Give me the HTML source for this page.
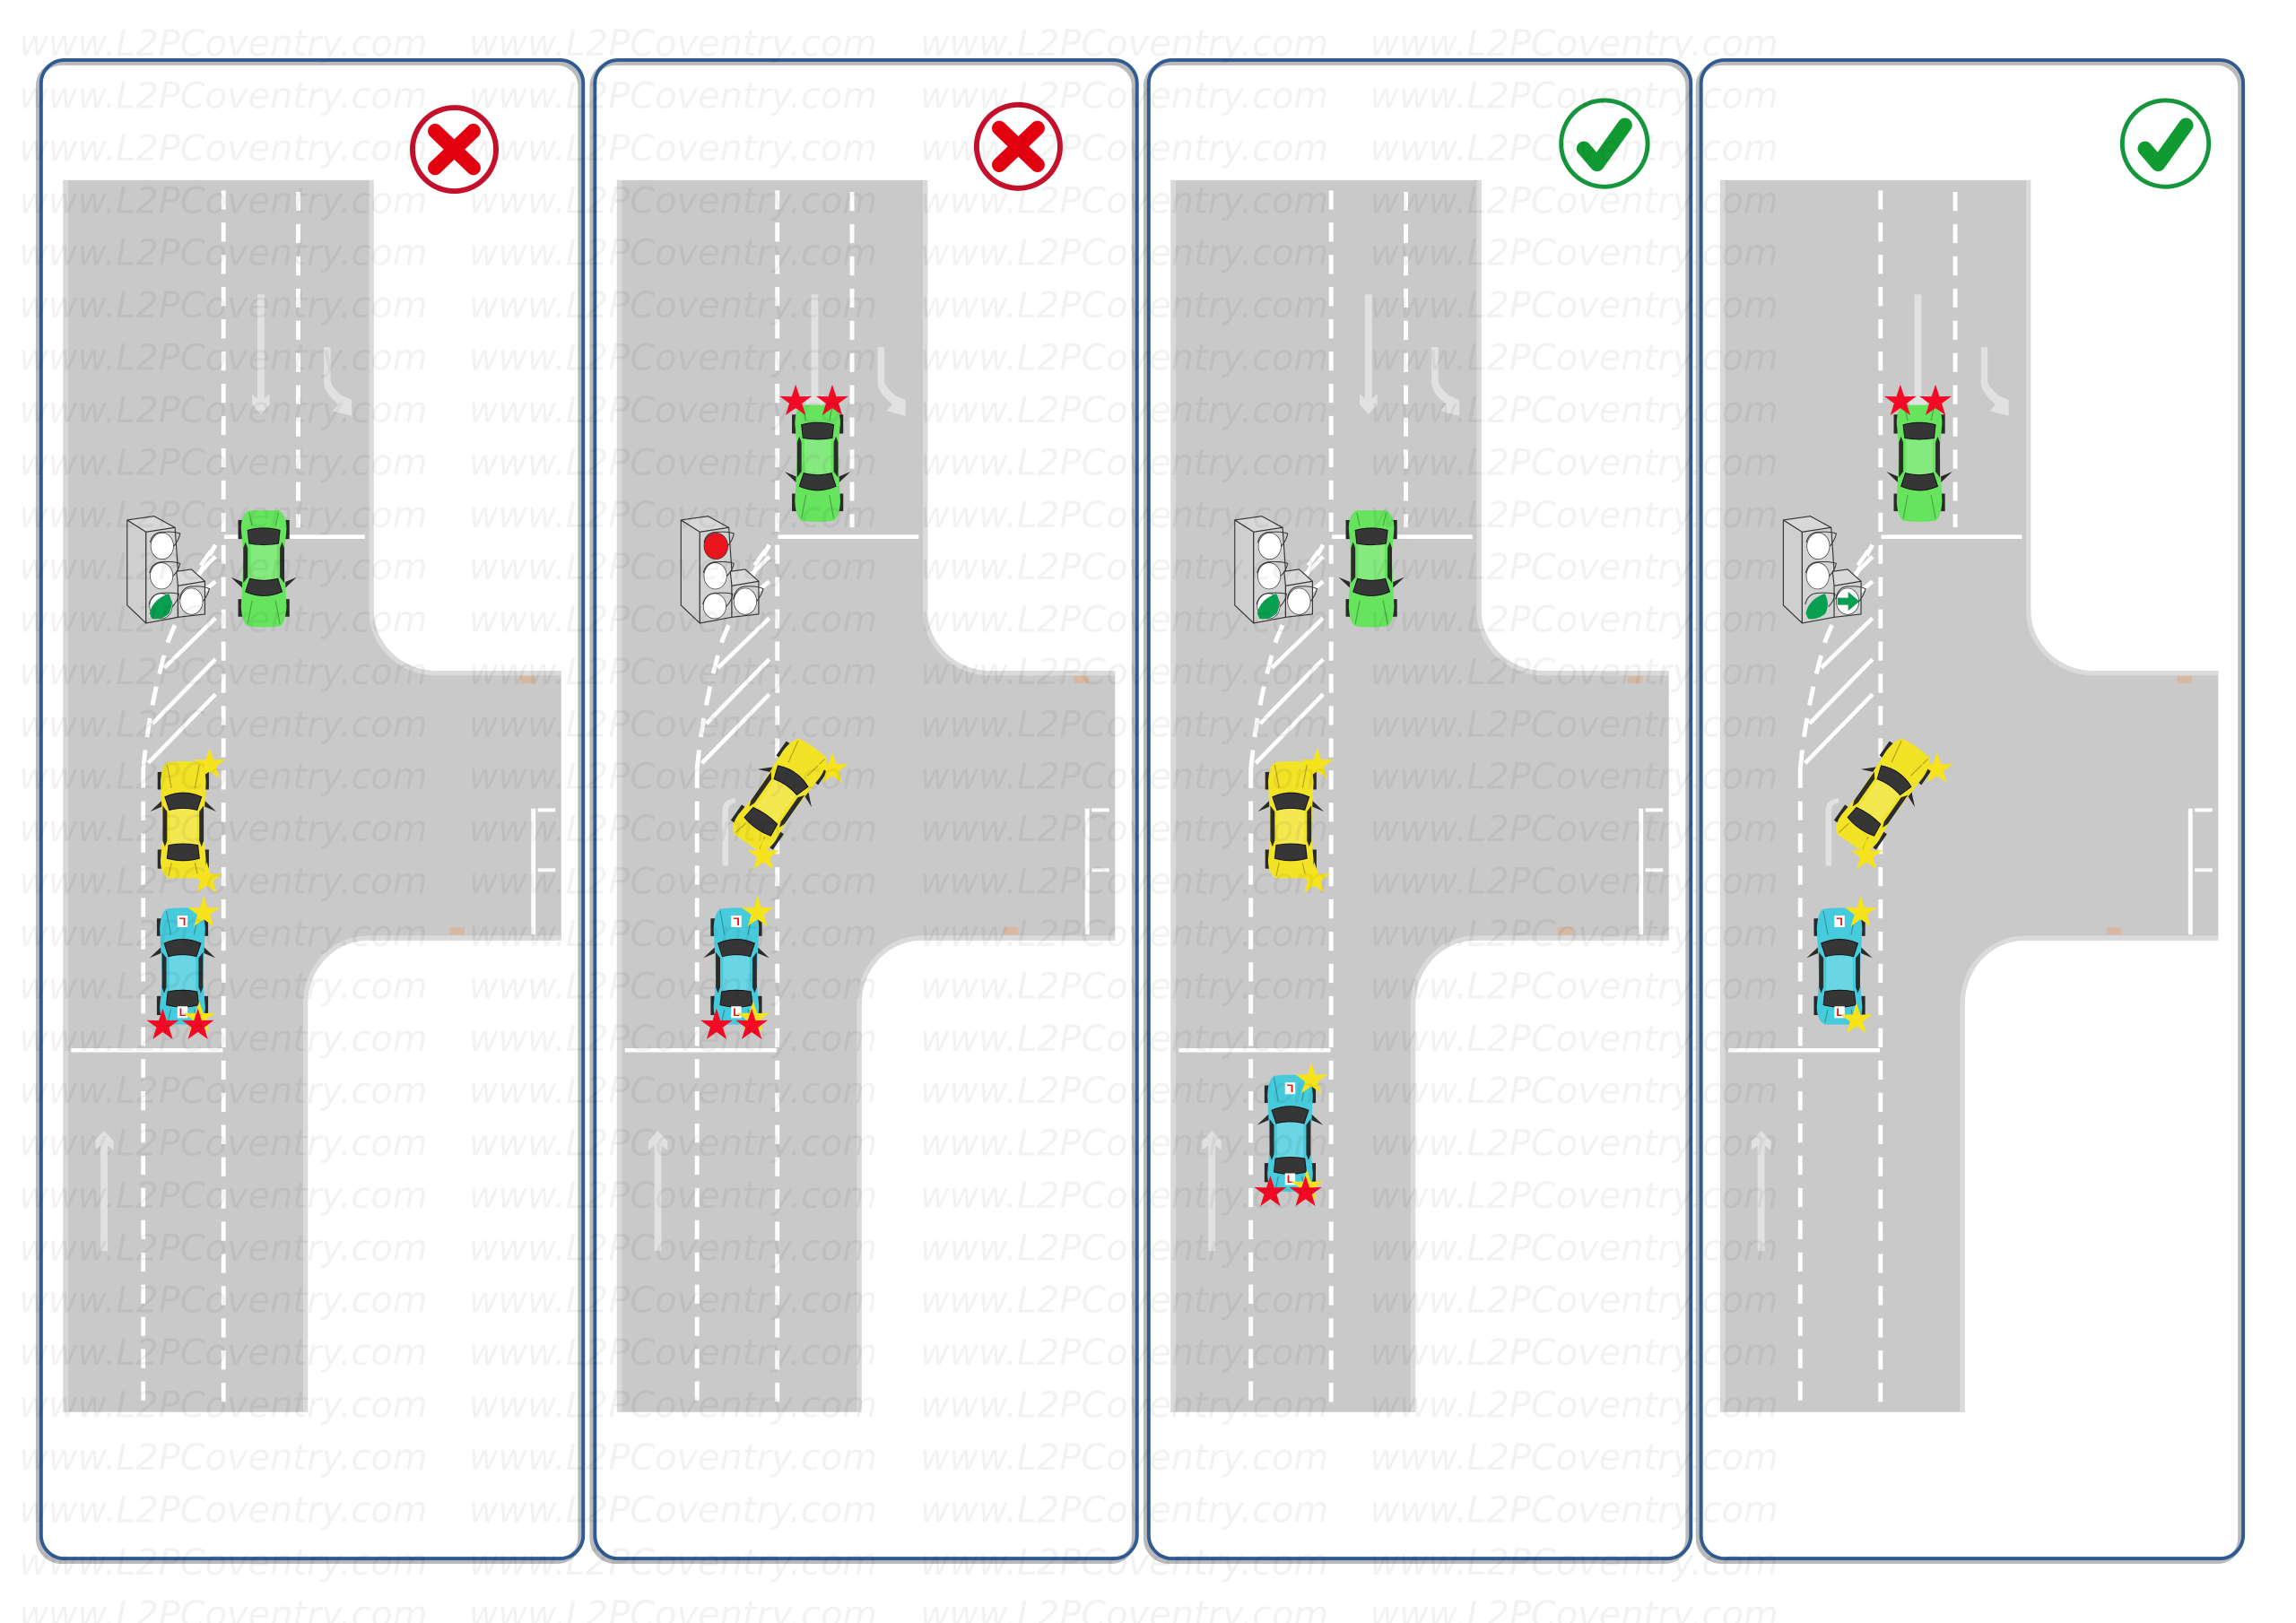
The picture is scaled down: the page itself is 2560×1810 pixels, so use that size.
<!DOCTYPE html>
<html>
<head>
<meta charset="utf-8">
<style>
html,body{margin:0;padding:0;background:#fff}
svg{display:block}
.wm text{font-family:"DejaVu Sans","Liberation Sans",sans-serif;font-style:italic;font-size:24.4px;fill:#000;fill-opacity:.05}
</style>
</head>
<body>
<svg xmlns="http://www.w3.org/2000/svg" width="2560" height="1810" viewBox="0 0 1567 1108">
<defs>
<g id="road">
<path d="M43,123H255V417A43,41 0 0 0 298,458H383V642H251A41,43 0 0 0 210,685V964H43Z" fill="#c9c9c9"/>
<path d="M44.8,123V964" stroke="#d8d8d8" stroke-width="3.4" fill="none"/>
<path d="M253.4,123V417A44.6,42.6 0 0 0 298,459.6H383" stroke="#dadada" stroke-width="3.2" fill="none"/>
<path d="M383,640.4H251A42.6,44.6 0 0 0 208.4,685V964" stroke="#dadada" stroke-width="3.2" fill="none"/>
<g stroke="#fff" fill="none">
<path d="M152.5,130V964" stroke-width="3" stroke-dasharray="13 9"/>
<path d="M203.5,131V360" stroke-width="3" stroke-dasharray="13 9"/>
<path d="M97.7,525V964" stroke-width="3" stroke-dasharray="13 9"/>
<path d="M97.7,525Q102,480 115,437Q128,405 147,372" stroke-width="3" stroke-dasharray="13 9"/>
<path d="M153,366.5H249" stroke-width="2.8"/>
<path d="M48.5,717H152" stroke-width="2.8"/>
<path d="M112,456L147,422M104,494L147,450M101,521L147,474M135,392L147,380M137,386L144,376M128,412L147,397" stroke-width="2.8"/>
<path d="M364,552V638" stroke-width="3"/>
<path d="M367,553H379M367,594H379" stroke-width="2.4"/>
</g>
<g fill="#e1e1e1">
<path d="M175.6,201H180.4V272L184,269V276L178,283L172,276V269L175.6,272Z"/>
<path d="M221,237H225.6V260Q226,264 233,270L240,273V284L227,280.500L231,276Q221,268 221,261Z"/>
<path d="M68.600,854H73.400V782L77.500,785V779L71,772L64.500,779V785L68.600,782Z"/>
<path d="M115,591H119V553Q119,549 124,548V545Q115,546 115,553Z"/>
</g>
<rect x="355" y="461.500" width="10" height="5" fill="#d8b8a0"/>
<rect x="307" y="633" width="10" height="5" fill="#d8b8a0"/>
</g>

<g id="tlbase" stroke="#333" stroke-width="3.4" stroke-linejoin="round">
<path d="M35,60L125,47L195,85L98,100Z" fill="#d8d8d8"/>
<path d="M35,60V345L98,405V100Z" fill="#cfcfcf"/>
<path d="M98,100L195,85L205,230L205,385L98,405Z" fill="#d2d2d2"/>
<path d="M200,232L250,225L295,265L205,280Z" fill="#dadada"/>
<path d="M205,280L295,265V375L205,385Z" fill="#d2d2d2"/>
</g>
<g id="tlhood" fill="none" stroke="#333" stroke-width="3">
<path d="M112,135Q120,98 160,100Q190,98 212,105Q208,128 190,148"/>
<path d="M110,237Q118,198 160,200Q190,198 212,205Q208,228 188,248"/>
<path d="M108,342Q118,302 158,304Q185,302 208,307Q205,330 186,350"/>
<path d="M210,325Q218,280 258,282Q290,280 310,290Q305,312 288,332"/>
</g>

<g id="car">
<g fill="#2a2a2a">
<rect x="-17.500" y="-33" width="3" height="12"/>
<rect x="14.500" y="-33" width="3" height="12"/>
<rect x="-17.500" y="20" width="3" height="13"/>
<rect x="14.500" y="20" width="3" height="13"/>
<path d="M-14,-14L-22.500,-6L-13,-10Z"/>
<path d="M14,-14L22.500,-6L13,-10Z"/>
</g>
<path d="M-11,-39.500Q0,-41 11,-39.500Q15,-37 15.500,-26L14.500,-6L14,10L15.500,27Q15.500,37 10,39.500H-10Q-15.500,37 -15.500,27L-14,10L-14.500,-6L-15.500,-26Q-15,-37 -11,-39.500Z" fill="currentColor"/>
<path d="M-9,-8H9V16H-9Z" fill="#fff" fill-opacity=".2"/>
<path d="M-11,-38L-8,-22M11,-38L8,-22M-10,38L-8,29M10,38L8,29" stroke="#000" stroke-opacity=".28" stroke-width=".7" fill="none"/>
<path d="M-12.500,-16Q0,-21.500 12.500,-16L9.500,-7Q0,-9.500 -9.500,-7Z" fill="#363636" stroke="#111" stroke-width=".6"/>
<path d="M-10,17Q0,15 10,17L11,26Q0,29 -11,26Z" fill="#363636" stroke="#111" stroke-width=".6"/>
<path d="M-14,-10L-11,-6V14L-12.500,18L-14,14Z" fill="#2c2c2c"/>
<path d="M14,-10L11,-6V14L12.500,18L14,14Z" fill="#2c2c2c"/>
</g>

<path id="star" d="M0,-11.500L2.700,-3.300L11,-3.500L4.300,1.400L6.800,9.400L0,4.600L-6.800,9.400L-4.300,1.400L-11,-3.500L-2.700,-3.300Z"/>
<g id="plates">
<rect x="-3.500" y="-35" width="7" height="8" fill="#fff"/>
<rect x="-3.500" y="27" width="7" height="8" fill="#fff"/>
<text x="0" y="33.500" font-family="Liberation Sans,sans-serif" font-size="7.500" font-weight="700" fill="#e01010" text-anchor="middle">L</text>
<text x="0" y="-28.500" font-family="Liberation Sans,sans-serif" font-size="7.500" font-weight="700" fill="#e01010" text-anchor="middle" transform="rotate(180 0 -31)">L</text>
</g>
</defs>

<!-- panels -->
<g fill="none">
<g stroke="#bababa" stroke-width="3.200">
<rect x="26" y="43" width="370" height="1023" rx="16"/>
<rect x="404" y="43" width="370" height="1023" rx="16"/>
<rect x="782" y="43" width="370" height="1023" rx="16"/>
<rect x="1159" y="43" width="370" height="1023" rx="16"/>
</g>
<g stroke="#2f5b92" stroke-width="2.400">
<rect x="28" y="41" width="370" height="1023" rx="16"/>
<rect x="406" y="41" width="370" height="1023" rx="16"/>
<rect x="784" y="41" width="370" height="1023" rx="16"/>
<rect x="1161" y="41" width="370" height="1023" rx="16"/>
</g>
</g>

<!-- roads -->
<use href="#road"/>
<use href="#road" x="378"/>
<use href="#road" x="756"/>
<use href="#road" x="1131"/>

<!-- traffic lights -->
<g transform="translate(79.600,342.800) scale(.204)">
<use href="#tlbase"/>
<g fill="#fff" stroke="#333" stroke-width="2"><ellipse cx="152" cy="147" rx="38" ry="44"/><ellipse cx="150" cy="247" rx="38" ry="44"/><ellipse cx="148" cy="348" rx="38" ry="42"/><ellipse cx="250" cy="332" rx="38" ry="44"/></g>
<path d="M110,372Q120,325 174,306Q192,340 176,372Q150,396 118,390Z" fill="#08a050"/>
<use href="#tlhood"/>
</g>
<g transform="translate(457.600,342.800) scale(.204)">
<use href="#tlbase"/>
<g fill="#fff" stroke="#333" stroke-width="2"><ellipse cx="152" cy="147" rx="40" ry="44" fill="#e8151c"/><ellipse cx="150" cy="247" rx="38" ry="44"/><ellipse cx="148" cy="348" rx="38" ry="42"/><ellipse cx="250" cy="332" rx="38" ry="44"/></g>
<use href="#tlhood"/>
</g>
<g transform="translate(835.600,342.800) scale(.204)">
<use href="#tlbase"/>
<g fill="#fff" stroke="#333" stroke-width="2"><ellipse cx="152" cy="147" rx="38" ry="44"/><ellipse cx="150" cy="247" rx="38" ry="44"/><ellipse cx="148" cy="348" rx="38" ry="42"/><ellipse cx="250" cy="332" rx="38" ry="44"/></g>
<path d="M110,372Q120,325 174,306Q192,340 176,372Q150,396 118,390Z" fill="#08a050"/>
<use href="#tlhood"/>
</g>
<g transform="translate(1210,342.800) scale(.204)">
<use href="#tlbase"/>
<g fill="#fff" stroke="#333" stroke-width="2"><ellipse cx="152" cy="147" rx="38" ry="44"/><ellipse cx="150" cy="247" rx="38" ry="44"/><ellipse cx="250" cy="332" rx="38" ry="44"/></g>
<path d="M110,372Q120,325 174,306Q192,340 176,372Q150,396 118,390Z" fill="#08a050"/>
<path d="M216,320H252V300L290,332L252,364V344H216Z" fill="#08a050"/>
<use href="#tlhood"/>
</g>

<!-- cars -->
<g>
<use href="#car" transform="translate(180,388) rotate(180)" style="color:#66e45e"/>
<use href="#car" transform="translate(125,560)" style="color:#f2e326"/>
<use href="#car" transform="translate(124.500,660)" style="color:#45cbdc"/>
<use href="#plates" transform="translate(124.500,660)"/>

<use href="#car" transform="translate(558,316) rotate(180)" style="color:#66e45e"/>
<use href="#car" transform="translate(532,543) rotate(35)" style="color:#f2e326"/>
<use href="#car" transform="translate(502.500,660)" style="color:#45cbdc"/>
<use href="#plates" transform="translate(502.500,660)"/>

<use href="#car" transform="translate(936,388) rotate(180)" style="color:#66e45e"/>
<use href="#car" transform="translate(881,560)" style="color:#f2e326"/>
<use href="#car" transform="translate(880.500,774)" style="color:#45cbdc"/>
<use href="#plates" transform="translate(880.500,774)"/>

<use href="#car" transform="translate(1310,316) rotate(180)" style="color:#66e45e"/>
<use href="#car" transform="translate(1285,543) rotate(35)" style="color:#f2e326"/>
<use href="#car" transform="translate(1255.500,660)" style="color:#45cbdc"/>
<use href="#plates" transform="translate(1255.500,660)"/>
</g>

<!-- stars -->
<g fill="#f6e31c">
<use href="#star" x="143" y="522"/><use href="#star" x="141" y="600"/><use href="#star" x="139" y="623"/><use href="#star" x="136" y="695"/>
<use href="#star" x="568" y="525"/><use href="#star" x="521" y="584"/><use href="#star" x="517" y="623"/><use href="#star" x="514" y="695"/>
<use href="#star" x="899" y="522"/><use href="#star" x="897" y="600"/><use href="#star" x="895" y="737"/><use href="#star" x="892" y="810"/>
<use href="#star" x="1322" y="525"/><use href="#star" x="1274" y="584"/><use href="#star" x="1270" y="623"/><use href="#star" x="1267" y="696"/>
</g>
<g fill="#f40a24">
<use href="#star" x="111" y="700"/><use href="#star" x="135" y="700"/>
<use href="#star" x="489" y="700"/><use href="#star" x="513" y="700"/>
<use href="#star" x="867" y="814"/><use href="#star" x="891" y="814"/>
<use href="#star" x="543" y="274"/><use href="#star" x="568" y="274"/>
<use href="#star" x="1297" y="274"/><use href="#star" x="1321" y="274"/>
</g>

<!-- status icons -->
<g fill="none" stroke-linecap="round" stroke-linejoin="round">
<circle cx="310" cy="102" r="28.500" stroke="#c4102a" stroke-width="3.600" fill="#fff"/>
<path d="M297,89.500L323,114.500M323,89.500L297,114.500" stroke="#e3000f" stroke-width="10"/>
<circle cx="695" cy="100" r="28.500" stroke="#c4102a" stroke-width="3.600" fill="#fff"/>
<path d="M682,87.500L708,112.500M708,87.500L682,112.500" stroke="#e3000f" stroke-width="10"/>
<circle cx="1095" cy="98" r="29.500" stroke="#15963c" stroke-width="3" fill="#fff"/>
<path d="M1081,101.500L1090,112L1109,85.500" stroke="#109a32" stroke-width="10"/>
<circle cx="1478" cy="98" r="29.500" stroke="#15963c" stroke-width="3" fill="#fff"/>
<path d="M1464,101.500L1473,112L1492,85.500" stroke="#109a32" stroke-width="10"/>
</g>

<!-- watermark -->
<g class="wm">
<text y="38"><tspan x="13">www.L2PCoventry.com</tspan><tspan x="320">www.L2PCoventry.com</tspan><tspan x="628">www.L2PCoventry.com</tspan><tspan x="935">www.L2PCoventry.com</tspan></text>
<text y="73.800"><tspan x="13">www.L2PCoventry.com</tspan><tspan x="320">www.L2PCoventry.com</tspan><tspan x="628">www.L2PCoventry.com</tspan><tspan x="935">www.L2PCoventry.com</tspan></text>
<text y="109.500"><tspan x="13">www.L2PCoventry.com</tspan><tspan x="320">www.L2PCoventry.com</tspan><tspan x="628">www.L2PCoventry.com</tspan><tspan x="935">www.L2PCoventry.com</tspan></text>
<text y="145.300"><tspan x="13">www.L2PCoventry.com</tspan><tspan x="320">www.L2PCoventry.com</tspan><tspan x="628">www.L2PCoventry.com</tspan><tspan x="935">www.L2PCoventry.com</tspan></text>
<text y="181"><tspan x="13">www.L2PCoventry.com</tspan><tspan x="320">www.L2PCoventry.com</tspan><tspan x="628">www.L2PCoventry.com</tspan><tspan x="935">www.L2PCoventry.com</tspan></text>
<text y="216.800"><tspan x="13">www.L2PCoventry.com</tspan><tspan x="320">www.L2PCoventry.com</tspan><tspan x="628">www.L2PCoventry.com</tspan><tspan x="935">www.L2PCoventry.com</tspan></text>
<text y="252.500"><tspan x="13">www.L2PCoventry.com</tspan><tspan x="320">www.L2PCoventry.com</tspan><tspan x="628">www.L2PCoventry.com</tspan><tspan x="935">www.L2PCoventry.com</tspan></text>
<text y="288.300"><tspan x="13">www.L2PCoventry.com</tspan><tspan x="320">www.L2PCoventry.com</tspan><tspan x="628">www.L2PCoventry.com</tspan><tspan x="935">www.L2PCoventry.com</tspan></text>
<text y="324"><tspan x="13">www.L2PCoventry.com</tspan><tspan x="320">www.L2PCoventry.com</tspan><tspan x="628">www.L2PCoventry.com</tspan><tspan x="935">www.L2PCoventry.com</tspan></text>
<text y="359.800"><tspan x="13">www.L2PCoventry.com</tspan><tspan x="320">www.L2PCoventry.com</tspan><tspan x="628">www.L2PCoventry.com</tspan><tspan x="935">www.L2PCoventry.com</tspan></text>
<text y="395.500"><tspan x="13">www.L2PCoventry.com</tspan><tspan x="320">www.L2PCoventry.com</tspan><tspan x="628">www.L2PCoventry.com</tspan><tspan x="935">www.L2PCoventry.com</tspan></text>
<text y="431.300"><tspan x="13">www.L2PCoventry.com</tspan><tspan x="320">www.L2PCoventry.com</tspan><tspan x="628">www.L2PCoventry.com</tspan><tspan x="935">www.L2PCoventry.com</tspan></text>
<text y="467"><tspan x="13">www.L2PCoventry.com</tspan><tspan x="320">www.L2PCoventry.com</tspan><tspan x="628">www.L2PCoventry.com</tspan><tspan x="935">www.L2PCoventry.com</tspan></text>
<text y="502.800"><tspan x="13">www.L2PCoventry.com</tspan><tspan x="320">www.L2PCoventry.com</tspan><tspan x="628">www.L2PCoventry.com</tspan><tspan x="935">www.L2PCoventry.com</tspan></text>
<text y="538.500"><tspan x="13">www.L2PCoventry.com</tspan><tspan x="320">www.L2PCoventry.com</tspan><tspan x="628">www.L2PCoventry.com</tspan><tspan x="935">www.L2PCoventry.com</tspan></text>
<text y="574.300"><tspan x="13">www.L2PCoventry.com</tspan><tspan x="320">www.L2PCoventry.com</tspan><tspan x="628">www.L2PCoventry.com</tspan><tspan x="935">www.L2PCoventry.com</tspan></text>
<text y="610"><tspan x="13">www.L2PCoventry.com</tspan><tspan x="320">www.L2PCoventry.com</tspan><tspan x="628">www.L2PCoventry.com</tspan><tspan x="935">www.L2PCoventry.com</tspan></text>
<text y="645.800"><tspan x="13">www.L2PCoventry.com</tspan><tspan x="320">www.L2PCoventry.com</tspan><tspan x="628">www.L2PCoventry.com</tspan><tspan x="935">www.L2PCoventry.com</tspan></text>
<text y="681.500"><tspan x="13">www.L2PCoventry.com</tspan><tspan x="320">www.L2PCoventry.com</tspan><tspan x="628">www.L2PCoventry.com</tspan><tspan x="935">www.L2PCoventry.com</tspan></text>
<text y="717.300"><tspan x="13">www.L2PCoventry.com</tspan><tspan x="320">www.L2PCoventry.com</tspan><tspan x="628">www.L2PCoventry.com</tspan><tspan x="935">www.L2PCoventry.com</tspan></text>
<text y="753"><tspan x="13">www.L2PCoventry.com</tspan><tspan x="320">www.L2PCoventry.com</tspan><tspan x="628">www.L2PCoventry.com</tspan><tspan x="935">www.L2PCoventry.com</tspan></text>
<text y="788.800"><tspan x="13">www.L2PCoventry.com</tspan><tspan x="320">www.L2PCoventry.com</tspan><tspan x="628">www.L2PCoventry.com</tspan><tspan x="935">www.L2PCoventry.com</tspan></text>
<text y="824.500"><tspan x="13">www.L2PCoventry.com</tspan><tspan x="320">www.L2PCoventry.com</tspan><tspan x="628">www.L2PCoventry.com</tspan><tspan x="935">www.L2PCoventry.com</tspan></text>
<text y="860.300"><tspan x="13">www.L2PCoventry.com</tspan><tspan x="320">www.L2PCoventry.com</tspan><tspan x="628">www.L2PCoventry.com</tspan><tspan x="935">www.L2PCoventry.com</tspan></text>
<text y="896"><tspan x="13">www.L2PCoventry.com</tspan><tspan x="320">www.L2PCoventry.com</tspan><tspan x="628">www.L2PCoventry.com</tspan><tspan x="935">www.L2PCoventry.com</tspan></text>
<text y="931.800"><tspan x="13">www.L2PCoventry.com</tspan><tspan x="320">www.L2PCoventry.com</tspan><tspan x="628">www.L2PCoventry.com</tspan><tspan x="935">www.L2PCoventry.com</tspan></text>
<text y="967.500"><tspan x="13">www.L2PCoventry.com</tspan><tspan x="320">www.L2PCoventry.com</tspan><tspan x="628">www.L2PCoventry.com</tspan><tspan x="935">www.L2PCoventry.com</tspan></text>
<text y="1003.300"><tspan x="13">www.L2PCoventry.com</tspan><tspan x="320">www.L2PCoventry.com</tspan><tspan x="628">www.L2PCoventry.com</tspan><tspan x="935">www.L2PCoventry.com</tspan></text>
<text y="1039"><tspan x="13">www.L2PCoventry.com</tspan><tspan x="320">www.L2PCoventry.com</tspan><tspan x="628">www.L2PCoventry.com</tspan><tspan x="935">www.L2PCoventry.com</tspan></text>
<text y="1074.800"><tspan x="13">www.L2PCoventry.com</tspan><tspan x="320">www.L2PCoventry.com</tspan><tspan x="628">www.L2PCoventry.com</tspan><tspan x="935">www.L2PCoventry.com</tspan></text>
<text y="1110.500"><tspan x="13">www.L2PCoventry.com</tspan><tspan x="320">www.L2PCoventry.com</tspan><tspan x="628">www.L2PCoventry.com</tspan><tspan x="935">www.L2PCoventry.com</tspan></text>
</g>
</svg>
</body>
</html>
